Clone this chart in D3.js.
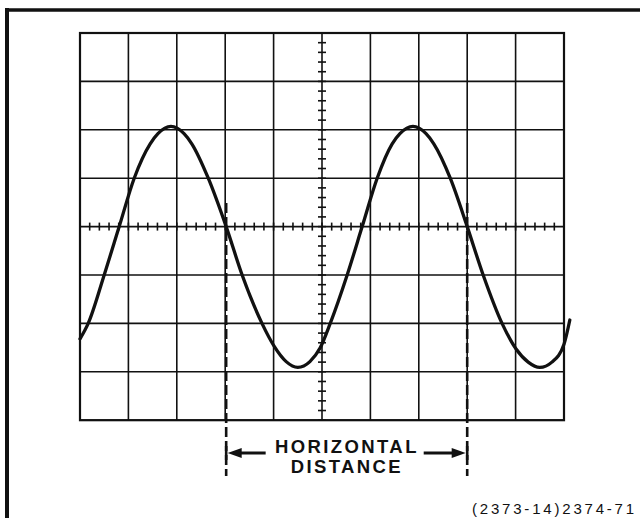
<!DOCTYPE html>
<html>
<head>
<meta charset="utf-8">
<script src="https://cdn.jsdelivr.net/npm/d3@7"></script>
<style>
	body { margin: 0; background: #fff; }
	svg { display: block; }
</style>
</head>
<body>
<svg class="chart"></svg>
<script>

// graticule divisions
var xDivs = d3.range(0, 11);
var yDivs = d3.range(-4, 5);

// trace, in divisions (x from left edge, y from centre line)
var traceX = [0, 0.17, 0.5, 0.81, 1.12, 1.45, 1.61, 1.88, 2.15, 2.31,
	2.65, 3.02, 3.35, 3.76, 4.01, 4.26, 4.5, 4.75, 4.96, 5.17,
	5.52, 5.83, 6.14, 6.45, 6.61, 6.88, 7.15, 7.31, 7.65, 8.0,
	8.33, 8.72, 9.01, 9.26, 9.5, 9.75, 10.0, 10.12];
var traceY = [-2.32, -2.0, -1.0, 0, 1.0, 1.71, 1.92, 2.07, 1.92, 1.71,
	1.0, 0, -1.0, -2.0, -2.47, -2.79, -2.91, -2.79, -2.51, -2.0,
	-1.0, 0, 1.0, 1.71, 1.92, 2.07, 1.92, 1.71, 1.0, 0,
	-1.0, -2.0, -2.53, -2.8, -2.91, -2.8, -2.43, -1.93];

// the two crossings that mark the horizontal distance
var markerX = [3.02, 8.0];

var labelLines = ['HORIZONTAL', 'DISTANCE'];
var figureLabel = '(2373-14)2374-71';

var width = 640,
	height = 518;

var ink = '#111';

var svg = d3.select('.chart')
	.attr('width', width)
	.attr('height', height);

// scales from divisions to pixels
var x = d3.scaleLinear().domain([0, 10]).range([80, 564]),
	y = d3.scaleLinear().domain([-4, 4]).range([420.2, 33]);

// page frame (top and left edge only)
svg.append('line')
	.attr('x1', 5).attr('x2', width)
	.attr('y1', 10).attr('y2', 10)
	.attr('stroke', ink).attr('stroke-width', 3.5);
svg.append('line')
	.attr('x1', 7).attr('x2', 7)
	.attr('y1', 8).attr('y2', height)
	.attr('stroke', ink).attr('stroke-width', 4);

var grid = svg.append('g')
	.attr('stroke', ink)
	.attr('stroke-width', 1.6);

// vertical grid lines
grid.selectAll('.vline')
	.data(xDivs)
.enter().append('line')
	.attr('class', 'vline')
	.attr('x1', function(d) {return x(d);})
	.attr('x2', function(d) {return x(d);})
	.attr('y1', y(4))
	.attr('y2', y(-4));

// horizontal grid lines
grid.selectAll('.hline')
	.data(yDivs)
.enter().append('line')
	.attr('class', 'hline')
	.attr('x1', x(0))
	.attr('x2', x(10))
	.attr('y1', function(d) {return y(d);})
	.attr('y2', function(d) {return y(d);});

// outer border of the graticule
grid.append('rect')
	.attr('x', x(0))
	.attr('y', y(4))
	.attr('width', x(10) - x(0))
	.attr('height', y(-4) - y(4))
	.attr('fill', 'none')
	.attr('stroke-width', 2.2);

// minor ticks on the centre axes, five per division
var xMinor = d3.range(0, 50).map(function(i) {return i / 5;}),
	yMinor = d3.range(-20, 20).map(function(i) {return i / 5;});

grid.selectAll('.xtick')
	.data(xMinor)
.enter().append('line')
	.attr('class', 'xtick')
	.attr('x1', function(d) {return x(d);})
	.attr('x2', function(d) {return x(d);})
	.attr('y1', y(0) - 4)
	.attr('y2', y(0) + 4);

grid.selectAll('.ytick')
	.data(yMinor)
.enter().append('line')
	.attr('class', 'ytick')
	.attr('x1', x(5) - 4)
	.attr('x2', x(5) + 4)
	.attr('y1', function(d) {return y(d);})
	.attr('y2', function(d) {return y(d);});

// the trace
var points = traceX.map(function(d, i) {return [d, traceY[i]];});

var line = d3.line()
	.x(function(d) {return x(d[0]);})
	.y(function(d) {return y(d[1]);})
	.curve(d3.curveMonotoneX);

svg.append('path')
	.datum(points)
	.attr('d', line)
	.attr('fill', 'none')
	.attr('stroke', ink)
	.attr('stroke-width', 3.3)
	.attr('stroke-linecap', 'round');

// dashed marker lines
var arrowY = 453;

svg.selectAll('.marker')
	.data(markerX)
.enter().append('line')
	.attr('class', 'marker')
	.attr('x1', function(d) {return x(d);})
	.attr('x2', function(d) {return x(d);})
	.attr('y1', 203)
	.attr('y2', 476)
	.attr('stroke', ink)
	.attr('stroke-width', 2.6)
	.attr('stroke-dasharray', '10,4');

svg.selectAll('.bar')
	.data(markerX)
.enter().append('line')
	.attr('class', 'bar')
	.attr('x1', function(d) {return x(d);})
	.attr('x2', function(d) {return x(d);})
	.attr('y1', arrowY - 7)
	.attr('y2', arrowY + 7)
	.attr('stroke', ink)
	.attr('stroke-width', 2.6);

// arrows pointing out to the markers
var xl = x(markerX[0]) + 1.5,
	xr = x(markerX[1]) - 1.5;

svg.append('line')
	.attr('x1', xl + 10).attr('x2', xl + 38)
	.attr('y1', arrowY).attr('y2', arrowY)
	.attr('stroke', ink).attr('stroke-width', 3);
svg.append('path')
	.attr('d', 'M' + xl + ',' + arrowY + 'L' + (xl + 14) + ',' + (arrowY - 5) +
		'L' + (xl + 14) + ',' + (arrowY + 5) + 'Z')
	.attr('fill', ink);

svg.append('line')
	.attr('x1', xr - 42).attr('x2', xr - 10)
	.attr('y1', arrowY).attr('y2', arrowY)
	.attr('stroke', ink).attr('stroke-width', 3);
svg.append('path')
	.attr('d', 'M' + xr + ',' + arrowY + 'L' + (xr - 14) + ',' + (arrowY - 5) +
		'L' + (xr - 14) + ',' + (arrowY + 5) + 'Z')
	.attr('fill', ink);

// label between the arrows
var mid = (x(markerX[0]) + x(markerX[1])) / 2 - 1;

svg.selectAll('.label')
	.data(labelLines)
.enter().append('text')
	.attr('class', 'label')
	.attr('x', mid)
	.attr('dx', 1.2)
	.attr('y', function(d, i) {return 452.7 + i * 20;})
	.attr('text-anchor', 'middle')
	.style('font', 'bold 18.5px "Liberation Sans", Arial, sans-serif')
	.style('letter-spacing', '2.4px')
	.attr('fill', ink)
	.text(function(d) {return d;});

svg.append('text')
	.attr('x', 472)
	.attr('y', 514)
	.style('font', '15px "Liberation Sans", Arial, sans-serif')
	.style('letter-spacing', '2.8px')
	.attr('fill', ink)
	.text(figureLabel);

</script>
</body>
</html>
